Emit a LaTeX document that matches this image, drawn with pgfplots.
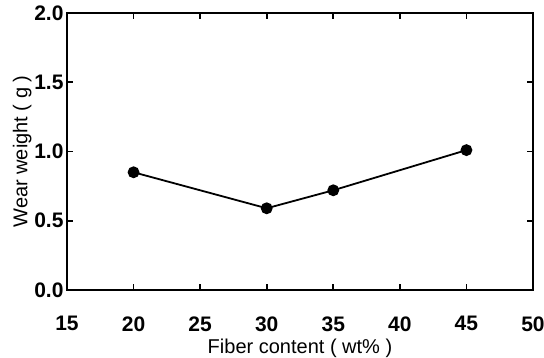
\documentclass[border=0pt]{standalone}
\usepackage{pgfplots}
\pgfplotsset{compat=1.18}
\usepackage{fontspec}
\setmainfont{Liberation Sans}
\begin{document}
\begin{tikzpicture}
\useasboundingbox (-67pt,-67pt) rectangle (477pt,290pt);
\begin{axis}[
  at={(0,0)}, anchor=south west,
  scale only axis, width=466pt, height=277pt,
  xmin=15, xmax=50, ymin=0, ymax=2,
  xtick={15,20,...,50}, ytick={0,0.5,...,2},
  tick align=inside, major tick length=6pt,
  axis line style={line width=2pt},
  every tick/.style={line width=1.6pt, black},
  /pgf/number format/assume math mode=true,
  yticklabel style={/pgf/number format/.cd, fixed, fixed zerofill, precision=1},
  ticklabel style={font=\fontsize{21}{24}\selectfont\bfseries},
  xticklabel style={yshift=-23pt},
  xlabel={Fiber content ( wt\% )},
  ylabel={Wear weight ( g )},
  label style={font=\fontsize{20}{24}\selectfont},
  xlabel style={yshift=-1pt},
  ylabel style={yshift=-4pt},
]
\addplot[black, line width=1.8pt, mark=*, mark size=5pt] coordinates {
(20,0.85) (30,0.59) (35,0.72) (45,1.01)
};
\end{axis}
\end{tikzpicture}
\end{document}
